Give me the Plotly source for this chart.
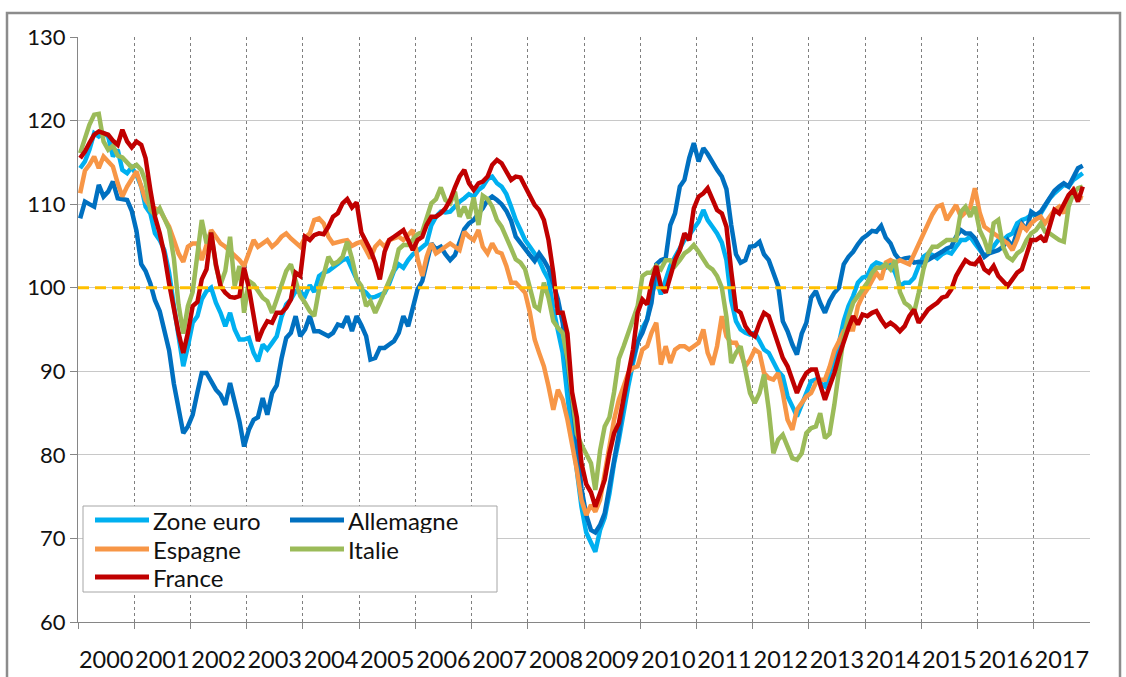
import plotly.graph_objects as go
import pandas as pd

# ---------------- data ----------------
years = list(range(2000, 2018))
year_labels = [str(y) for y in years]
n_months = 215
months = pd.date_range("2000-01-01", periods=n_months, freq="MS") + pd.Timedelta(days=14)

zone_euro = [
    114.3, 115.1, 116.5, 118.5, 118.1, 118.5, 118.1, 115.7, 116.5, 114.1, 113.7, 114.4,
    113.5, 112.1, 109.7, 108.9, 106.5, 105.7, 104.5, 101.8, 97.8, 94.0, 90.6, 93.0,
    95.8, 96.6, 98.6, 99.6, 100.0, 98.2, 97.0, 95.4, 97.0, 95.0, 93.8, 93.8,
    94.0, 92.2, 91.2, 93.2, 92.6, 93.4, 94.2, 96.5, 98.0, 98.6, 99.6, 99.5,
    99.0, 100.3, 99.5, 101.4, 101.8, 102.0, 102.4, 102.8, 103.3, 103.5, 102.2, 100.8,
    99.8, 99.4, 98.8, 98.9, 99.2, 99.4, 100.5, 102.0, 102.8, 102.4, 103.3, 104.0,
    104.4, 104.8, 105.3, 107.5, 108.5, 109.1, 109.0, 109.1, 109.7, 110.3, 110.7, 111.2,
    110.9, 111.7, 112.1, 113.0, 113.3, 112.5, 112.1, 111.2, 109.7, 108.1, 106.9, 105.7,
    104.9, 104.1, 103.3, 102.0, 101.0, 97.5, 94.6, 92.2, 87.0, 82.6, 78.2, 73.8,
    70.7, 69.5, 68.4, 71.0, 72.5, 75.4, 79.0, 81.8, 85.4, 88.2, 91.0, 93.4,
    95.2, 96.2, 99.0, 101.2, 99.2, 100.8, 102.6, 103.7, 104.8, 105.7, 106.3, 107.2,
    107.9, 109.3, 108.1, 107.3, 106.5, 105.4, 103.3, 98.5, 96.0, 95.0, 94.6, 94.4,
    94.6, 93.6, 92.6, 92.2, 91.0, 90.0, 89.4, 87.0, 85.8, 84.6, 86.0, 87.4,
    88.8, 89.0, 88.6, 88.2, 89.6, 91.4, 93.4, 96.0, 97.8, 99.0, 100.6, 101.2,
    101.4, 102.6, 103.0, 102.8, 102.4, 102.8, 101.8, 100.2, 100.6, 100.6, 101.2, 102.6,
    103.7, 104.1, 103.9, 103.5, 104.0, 104.3, 104.1, 104.9, 105.7, 105.7, 106.1, 105.3,
    104.6, 103.8, 104.2, 104.9, 105.7, 105.7, 106.2, 106.5, 107.7, 108.1, 108.3, 108.7,
    108.7, 108.9, 109.7, 110.7, 111.3, 111.9, 112.3, 112.1, 112.9, 113.3, 113.7,
]

allemagne = [
    108.3, 110.3, 110.0, 109.7, 112.3, 110.9, 111.5, 112.7, 110.7, 110.6, 110.5, 109.2,
    106.8, 102.8, 102.0, 100.5, 98.5, 97.2, 95.0, 92.5, 88.5, 85.5, 82.6, 83.4,
    84.8, 87.5, 89.8, 89.8, 88.8, 87.8, 87.2, 86.0, 88.6, 86.3, 84.0, 81.0,
    83.0, 84.2, 84.5, 86.8, 84.8, 87.4, 88.3, 91.5, 94.0, 94.6, 96.6, 94.2,
    95.0, 96.6, 94.8, 94.8, 94.5, 94.2, 94.6, 95.6, 95.4, 96.6, 94.8, 96.6,
    95.5, 94.2, 91.4, 91.6, 92.8, 92.8, 93.2, 93.6, 94.6, 96.6, 95.4, 97.8,
    99.8, 100.8, 103.0, 105.3, 104.6, 104.9, 104.0, 103.3, 103.9, 105.3, 107.0, 107.7,
    108.1, 108.9, 109.5, 110.5, 110.9, 110.5, 110.0, 109.2, 108.0, 106.1, 105.3, 104.5,
    103.9, 103.2, 104.1, 103.3, 102.3, 100.5, 98.6, 95.8, 91.5, 86.5, 81.5, 76.0,
    72.8, 71.0, 70.7, 71.6, 73.0, 76.0, 79.0, 82.5, 86.5, 89.5, 91.5, 93.5,
    94.6, 96.2, 98.2, 102.8, 103.3, 103.5, 107.5, 108.9, 112.1, 112.9, 115.5, 117.3,
    115.1, 116.7, 116.0, 114.9, 114.1, 113.3, 111.8, 107.5, 104.0, 103.0, 103.3, 104.9,
    105.0, 105.5, 104.0, 103.3, 101.8, 100.2, 96.0, 94.8, 93.2, 92.0, 94.5, 95.8,
    98.8, 99.6, 98.2, 97.0, 98.4, 99.4, 100.0, 102.8, 103.7, 104.3, 105.2, 105.9,
    106.3, 106.8, 106.7, 107.4, 106.0, 105.3, 104.0, 103.3, 103.5, 103.6, 103.0, 103.1,
    103.0, 103.3, 103.6, 104.0, 104.3, 104.7, 104.9, 106.1, 106.9, 106.5, 106.5, 105.9,
    104.8, 103.7, 104.1, 104.3, 104.5, 104.9, 105.7, 104.9, 106.7, 107.7, 106.9, 109.1,
    108.7, 109.1, 109.9, 110.9, 111.6, 112.1, 112.5, 112.1, 113.3, 114.3, 114.6,
]

espagne = [
    111.3, 114.0, 114.7, 115.7, 114.3, 115.7, 115.1, 114.5, 112.5, 110.9, 112.1, 113.1,
    113.9, 112.1, 110.5, 109.7, 109.5, 109.3, 108.3, 107.3, 105.7, 104.1, 103.1, 104.9,
    105.3, 105.3, 103.3, 105.3, 106.9, 106.1, 105.3, 104.9, 104.4, 103.9, 103.3, 102.6,
    104.1, 105.7, 104.9, 105.3, 105.7, 104.9, 105.4, 106.1, 106.5, 105.9, 105.3, 104.9,
    106.0, 106.5, 108.1, 108.3, 107.7, 106.1, 105.3, 105.5, 105.6, 105.7, 105.0, 105.3,
    105.5, 104.5, 103.5, 104.9, 105.5, 104.9, 105.7, 105.9, 106.1, 105.7, 106.3, 106.9,
    103.5, 101.4, 103.7, 105.3, 104.1, 104.5, 104.9, 105.3, 104.9, 104.5, 106.7, 106.1,
    105.7, 106.9, 104.9, 104.1, 105.3, 104.3, 104.1, 102.6, 100.6, 100.6, 100.0, 99.4,
    97.0, 93.8, 92.2, 90.6, 88.2, 85.4, 87.8, 86.6, 84.2, 81.4, 78.2, 74.6,
    72.8, 74.0, 73.2, 74.6, 77.5, 81.0, 84.2, 86.6, 88.2, 89.8, 90.4, 90.6,
    92.6, 93.0, 94.6, 95.8, 90.8, 93.0, 91.0, 92.6, 93.0, 93.0, 92.6, 93.0,
    93.4, 95.0, 92.2, 90.8, 93.0, 96.6, 94.2, 93.4, 93.4, 92.2, 90.6, 91.4,
    92.6, 92.2, 89.8, 89.2, 89.0, 89.8, 87.4, 84.2, 83.0, 85.4, 86.2, 87.0,
    87.4, 88.6, 89.0, 89.0, 90.5, 92.5, 93.6, 94.8, 95.0, 95.0, 97.8, 99.0,
    99.8, 101.0, 101.8, 101.0, 103.0, 103.3, 103.0, 103.3, 103.0, 102.8, 104.0, 105.2,
    106.4, 107.5, 108.8, 109.7, 109.9, 108.1, 108.9, 109.9, 108.5, 109.0, 109.6, 111.9,
    109.0, 107.3, 106.9, 106.5, 106.1, 105.7, 105.3, 104.5, 105.8, 107.5, 106.9, 107.7,
    108.2, 108.5, 107.7, 108.5, 109.3, 109.7, 108.9, 110.5, 111.7, 110.9, 110.7,
]

italie = [
    116.1, 117.9, 119.5, 120.7, 120.8, 117.5, 116.5, 117.0, 115.8, 115.6, 115.0, 114.4,
    114.7, 114.1, 112.7, 109.3, 108.7, 109.5, 108.3, 107.0, 103.5, 98.0, 94.5, 97.8,
    99.5, 104.0, 108.1, 105.3, 106.6, 102.6, 100.4, 102.0, 106.1, 100.2, 102.6, 97.0,
    100.8, 100.4, 99.6, 98.8, 98.4, 97.0, 98.6, 100.2, 102.0, 102.8, 101.0, 99.0,
    98.2, 97.2, 96.6, 99.8, 101.5, 103.7, 102.8, 103.1, 103.7, 105.5, 103.5, 101.0,
    100.2, 97.8, 98.4, 97.0, 98.2, 99.6, 100.6, 102.2, 104.6, 105.1, 105.1, 105.8,
    106.4, 106.7, 108.5, 110.1, 110.6, 112.0, 110.5, 110.1, 111.5, 108.5, 109.7, 108.3,
    110.8, 107.5, 111.0, 110.6, 109.7, 108.1, 107.3, 106.1, 104.7, 103.4, 103.0, 102.2,
    100.2, 97.8, 97.4, 100.6, 98.8, 96.0, 95.2, 94.6, 91.5, 86.5, 82.5, 81.2,
    80.0, 79.0, 75.8, 80.5, 83.4, 84.5, 87.5, 91.5, 93.0, 94.6, 96.0, 97.8,
    101.4, 101.8, 101.8, 102.6, 102.2, 103.3, 103.3, 102.6, 103.3, 104.1, 104.5, 105.1,
    104.3, 103.3, 102.6, 102.2, 101.4, 100.0, 96.5, 91.0, 92.2, 93.0, 89.8, 87.4,
    86.2, 87.4, 89.6, 85.4, 80.2, 81.8, 82.4, 81.0, 79.6, 79.4, 80.2, 82.6,
    83.2, 83.4, 85.0, 82.0, 82.5, 86.0, 89.8, 94.2, 96.5, 98.2, 99.0, 99.8,
    100.6, 101.8, 102.4, 102.4, 102.8, 102.2, 103.3, 99.5, 98.2, 97.8, 97.0, 99.4,
    102.2, 104.1, 104.9, 104.9, 105.3, 105.7, 105.7, 105.7, 109.1, 109.7, 108.5, 109.7,
    106.9, 105.7, 104.1, 107.7, 108.1, 104.9, 103.7, 103.3, 104.1, 104.5, 105.7, 106.5,
    106.9, 107.7, 106.7, 106.5, 106.1, 105.7, 105.5, 109.7, 111.3, 111.9, 112.1,
]

france = [
    115.5, 116.3, 117.3, 118.3, 118.7, 118.5, 118.3, 117.6, 117.1, 118.9, 117.5, 116.8,
    117.5, 117.1, 115.5, 111.7, 108.5, 106.5, 104.0, 100.5, 97.4, 94.6, 92.2, 94.6,
    97.8, 98.3, 101.0, 102.2, 106.6, 102.8, 100.2, 99.4, 98.9, 98.8, 99.0, 102.4,
    100.0, 96.5, 93.6, 95.0, 96.0, 95.8, 97.0, 97.0, 97.6, 98.6, 101.8, 101.4,
    106.1, 105.7, 106.3, 106.5, 106.4, 107.3, 108.5, 108.9, 110.1, 110.6, 109.6, 110.2,
    106.6, 105.5, 104.5, 103.0, 101.0, 104.3, 105.7, 106.1, 106.5, 106.9, 105.7, 104.5,
    105.7, 106.1, 107.5, 108.5, 108.5, 108.9, 109.5, 110.5, 112.0, 113.3, 114.1, 112.5,
    111.7, 112.5, 112.7, 113.3, 114.7, 115.3, 114.9, 113.8, 112.9, 113.3, 113.2, 112.1,
    110.9, 109.9, 109.3, 108.1, 105.7, 101.8, 97.0, 97.0, 94.5, 87.5, 84.5, 79.0,
    76.5, 75.5, 73.8, 75.5, 77.0, 80.2, 82.6, 83.8, 87.0, 89.8, 92.6, 97.0,
    98.6, 98.0, 100.6, 102.6, 100.2, 99.4, 101.4, 103.3, 104.5, 106.5, 105.7, 109.5,
    110.9, 111.3, 111.9, 110.5, 109.3, 108.9, 107.3, 102.0, 97.4, 97.0, 95.4, 94.6,
    94.2, 95.8, 97.0, 96.6, 95.0, 93.6, 91.6, 90.6, 89.0, 87.4, 88.8, 89.8,
    90.2, 90.2, 88.4, 86.6, 88.2, 89.8, 91.8, 93.6, 95.2, 96.6, 95.6, 96.8,
    96.6, 97.0, 97.2, 96.2, 95.4, 95.8, 95.4, 94.8, 95.4, 96.6, 97.4, 95.8,
    96.6, 97.4, 97.8, 98.2, 98.8, 99.0, 99.8, 101.4, 102.4, 103.3, 102.9, 102.8,
    103.5, 102.2, 101.8, 102.6, 101.4, 100.8, 100.2, 101.0, 101.8, 102.2, 104.1, 105.7,
    105.7, 106.1, 105.5, 107.3, 109.3, 108.9, 110.1, 111.1, 111.7, 110.3, 112.1,
]

series_names = ["Zone euro", "Allemagne", "Espagne", "Italie", "France"]
series_values = [zone_euro, allemagne, espagne, italie, france]
series_colors = ["#00B0F0", "#0070C0", "#F79646", "#9BBB59", "#C00000"]
reference_level = 100
y_ticks = [60, 70, 80, 90, 100, 110, 120, 130]

# ---------------- layout geometry (pixels) ----------------
W, H = 1126, 677
ML, MR, MT, MB = 78, 36, 37, 55
PW, PH = W - ML - MR, H - MT - MB


def xp(px):
    return (px - ML) / PW


def yp(py):
    return (H - MB - py) / PH


FONT = "Lato, 'Open Sans', sans-serif"
TXT = "#111111"

fig = go.Figure()
for name, vals, col in zip(series_names, series_values, series_colors):
    fig.add_trace(go.Scatter(
        x=months, y=vals, mode="lines", name=name,
        line=dict(color=col, width=4.5), showlegend=False,
        hovertemplate="%{x|%b %Y}: %{y}<extra>" + name + "</extra>",
    ))

fig.add_hline(y=reference_level, line=dict(color="#FFC000", width=3, dash="11px,6px"),
              layer="above")

shapes = []
annotations = []
# outer frame
shapes.append(dict(type="rect", xref="paper", yref="paper",
                   x0=xp(7), x1=xp(1120), y0=yp(720), y1=yp(13),
                   line=dict(color="#8C8C8C", width=2.5), fillcolor="rgba(0,0,0,0)",
                   layer="above"))
# legend box
shapes.append(dict(type="rect", xref="paper", yref="paper",
                   x0=xp(83), x1=xp(497), y0=yp(592), y1=yp(506),
                   line=dict(color="#A6A6A6", width=1), fillcolor="white", layer="above"))
legend_rows = [520, 549, 577]
legend_cols = [95, 290]
slots = [(0, 0), (0, 1), (1, 0), (1, 1), (2, 0)]
for (r, c), name, col in zip(slots, series_names, series_colors):
    x0 = legend_cols[c]
    yy = yp(legend_rows[r])
    shapes.append(dict(type="line", xref="paper", yref="paper",
                       x0=xp(x0), x1=xp(x0 + 54), y0=yy, y1=yy,
                       line=dict(color=col, width=5), layer="above"))
    annotations.append(dict(xref="paper", yref="paper", x=xp(x0 + 56), y=yy,
                            text=name, showarrow=False, xanchor="left", yanchor="middle",
                            height=26, valign="middle",
                            font=dict(family=FONT, size=24, color=TXT)))

fig.update_layout(
    width=W, height=H,
    margin=dict(l=ML, r=MR, t=MT, b=MB, pad=0, autoexpand=False),
    paper_bgcolor="white", plot_bgcolor="white",
    font=dict(family=FONT, size=22, color=TXT),
    shapes=fig.layout.shapes + tuple(shapes),
    annotations=annotations,
    showlegend=False,
)

fig.update_xaxes(
    type="date",
    range=["2000-01-01", "2018-01-01"],
    tickmode="array",
    tickvals=[f"{y}-07-02" for y in years],
    ticktext=year_labels,
    tickangle=0,
    ticks="",
    showgrid=False,
    showline=True, linecolor="#868686", linewidth=1,
    zeroline=False,
    automargin=False,
    tickfont=dict(family=FONT, size=23.5, color=TXT),
    ticklabelstandoff=17,
    minor=dict(
        tickmode="array",
        tickvals=[f"{y}-01-01" for y in years],
        ticks="outside", ticklen=6, tickcolor="#868686", tickwidth=1,
        showgrid=True, gridcolor="#7F7F7F", gridwidth=1, griddash="3px,3px",
    ),
)

fig.update_yaxes(
    range=[60, 130],
    tickmode="array", tickvals=y_ticks,
    showgrid=True, gridcolor="#C8C8C8", gridwidth=1,
    showline=True, linecolor="#868686", linewidth=1,
    ticks="outside", ticklen=7, tickcolor="#868686",
    zeroline=False,
    automargin=False,
    tickfont=dict(family=FONT, size=22, color=TXT),
)

fig.write_html("out.html",
               config={"displayModeBar": False},
               post_script="document.body.style.margin='0';document.body.style.overflow='hidden';")
